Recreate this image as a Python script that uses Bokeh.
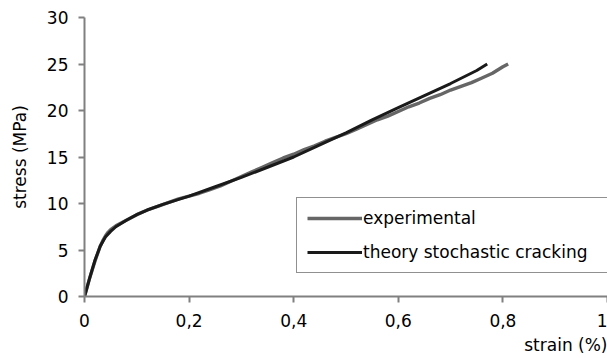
from bokeh.plotting import figure
from bokeh.models import Range1d, FixedTicker, Legend, LegendItem, Title
from bokeh.embed import file_html
from bokeh.resources import INLINE

# ---- data ----
strain_exp = [0, 0.005, 0.01, 0.015, 0.02, 0.025, 0.03, 0.035, 0.04, 0.045, 0.05, 0.06,
              0.07, 0.08, 0.09, 0.10, 0.12, 0.14, 0.16, 0.18, 0.20, 0.22, 0.24, 0.26,
              0.28, 0.30, 0.32, 0.34, 0.36, 0.38, 0.40, 0.42, 0.44, 0.46, 0.48, 0.50,
              0.52, 0.54, 0.56, 0.58, 0.60, 0.62, 0.64, 0.66, 0.68, 0.70, 0.72, 0.74,
              0.76, 0.78, 0.80, 0.81]
stress_exp = [0, 1.0, 2.0, 2.9, 3.8, 4.6, 5.4, 6.0, 6.5, 6.9, 7.2, 7.6,
              7.9, 8.2, 8.5, 8.8, 9.3, 9.7, 10.1, 10.5, 10.8, 11.1, 11.5, 11.9,
              12.4, 12.9, 13.4, 13.9, 14.4, 14.9, 15.3, 15.8, 16.2, 16.7, 17.1, 17.5,
              18.0, 18.5, 19.0, 19.4, 19.9, 20.4, 20.8, 21.3, 21.7, 22.2, 22.6, 23.0,
              23.5, 24.0, 24.7, 25.0]

strain_th = [0, 0.01, 0.02, 0.03, 0.04, 0.05, 0.06, 0.08, 0.10, 0.12, 0.15, 0.20,
             0.25, 0.30, 0.35, 0.40, 0.45, 0.50, 0.55, 0.60, 0.65, 0.70, 0.75, 0.77]
stress_th = [0, 2.0, 3.9, 5.4, 6.4, 7.0, 7.5, 8.2, 8.8, 9.3, 9.9, 10.8,
             11.8, 12.8, 13.9, 15.0, 16.3, 17.6, 19.0, 20.3, 21.6, 22.9, 24.3, 25.0]

x_ticks = [0, 0.2, 0.4, 0.6, 0.8, 1.0]
x_tick_labels = ["0", "0,2", "0,4", "0,6", "0,8", "1"]
y_ticks = [0, 5, 10, 15, 20, 25, 30]

series_names = ["experimental", "theory stochastic cracking"]
x_title = "strain (%)"
y_title = "stress (MPa)"

FONT = "DejaVu Sans"
FS = "17px"

p = figure(width=607, height=358, output_backend="svg", toolbar_location=None,
           x_range=Range1d(0, 1.0), y_range=Range1d(0, 30),
           min_border_left=84, min_border_right=0, min_border_top=17,
           min_border_bottom=62)
p.outline_line_color = None
p.grid.visible = False
p.background_fill_color = "white"
p.border_fill_color = "white"

r_exp = p.line(strain_exp, stress_exp, line_color="#666666", line_width=3.4,
               line_join="round")
r_th = p.line(strain_th, stress_th, line_color="#1a1a1a", line_width=3.0,
              line_join="round")

for ax in (p.xaxis[0], p.yaxis[0]):
    ax.axis_line_color = "#808080"
    ax.axis_line_width = 2
    ax.major_tick_line_color = "#808080"
    ax.major_tick_line_width = 2
    ax.major_tick_out = 6
    ax.major_tick_in = 0
    ax.minor_tick_line_color = None
    ax.major_label_text_font = FONT
    ax.major_label_text_font_size = FS
    ax.major_label_text_color = "#000000"

p.xaxis.ticker = FixedTicker(ticks=x_ticks)
p.xaxis.major_label_overrides = {t: l for t, l in zip(x_ticks, x_tick_labels)}
p.xaxis.major_label_standoff = 11
p.yaxis.ticker = FixedTicker(ticks=y_ticks)
p.yaxis.major_label_standoff = 10
p.yaxis.axis_label = y_title
p.yaxis.axis_label_text_font = FONT
p.yaxis.axis_label_text_font_size = FS
p.yaxis.axis_label_text_font_style = "normal"
p.yaxis.axis_label_text_color = "#000000"
p.yaxis.axis_label_standoff = 14

xt = Title(text=x_title, align="right", text_font=FONT, text_font_size=FS,
           text_font_style="normal", text_color="#000000", standoff=7, offset=0)
p.add_layout(xt, "below")

legend = Legend(items=[LegendItem(label=series_names[0], renderers=[r_exp]),
                       LegendItem(label=series_names[1], renderers=[r_th])],
                location=(212, 23), orientation="vertical",
                label_text_font=FONT, label_text_font_size=FS,
                label_text_color="#000000",
                glyph_width=55, glyph_height=20, label_height=20, label_width=260,
                label_standoff=1, spacing=14, padding=10, margin=0,
                border_line_color="#222222", border_line_width=1,
                background_fill_color="white", background_fill_alpha=1.0)
p.add_layout(legend, "center")

open("out.html", "w").write(file_html(p, INLINE))
